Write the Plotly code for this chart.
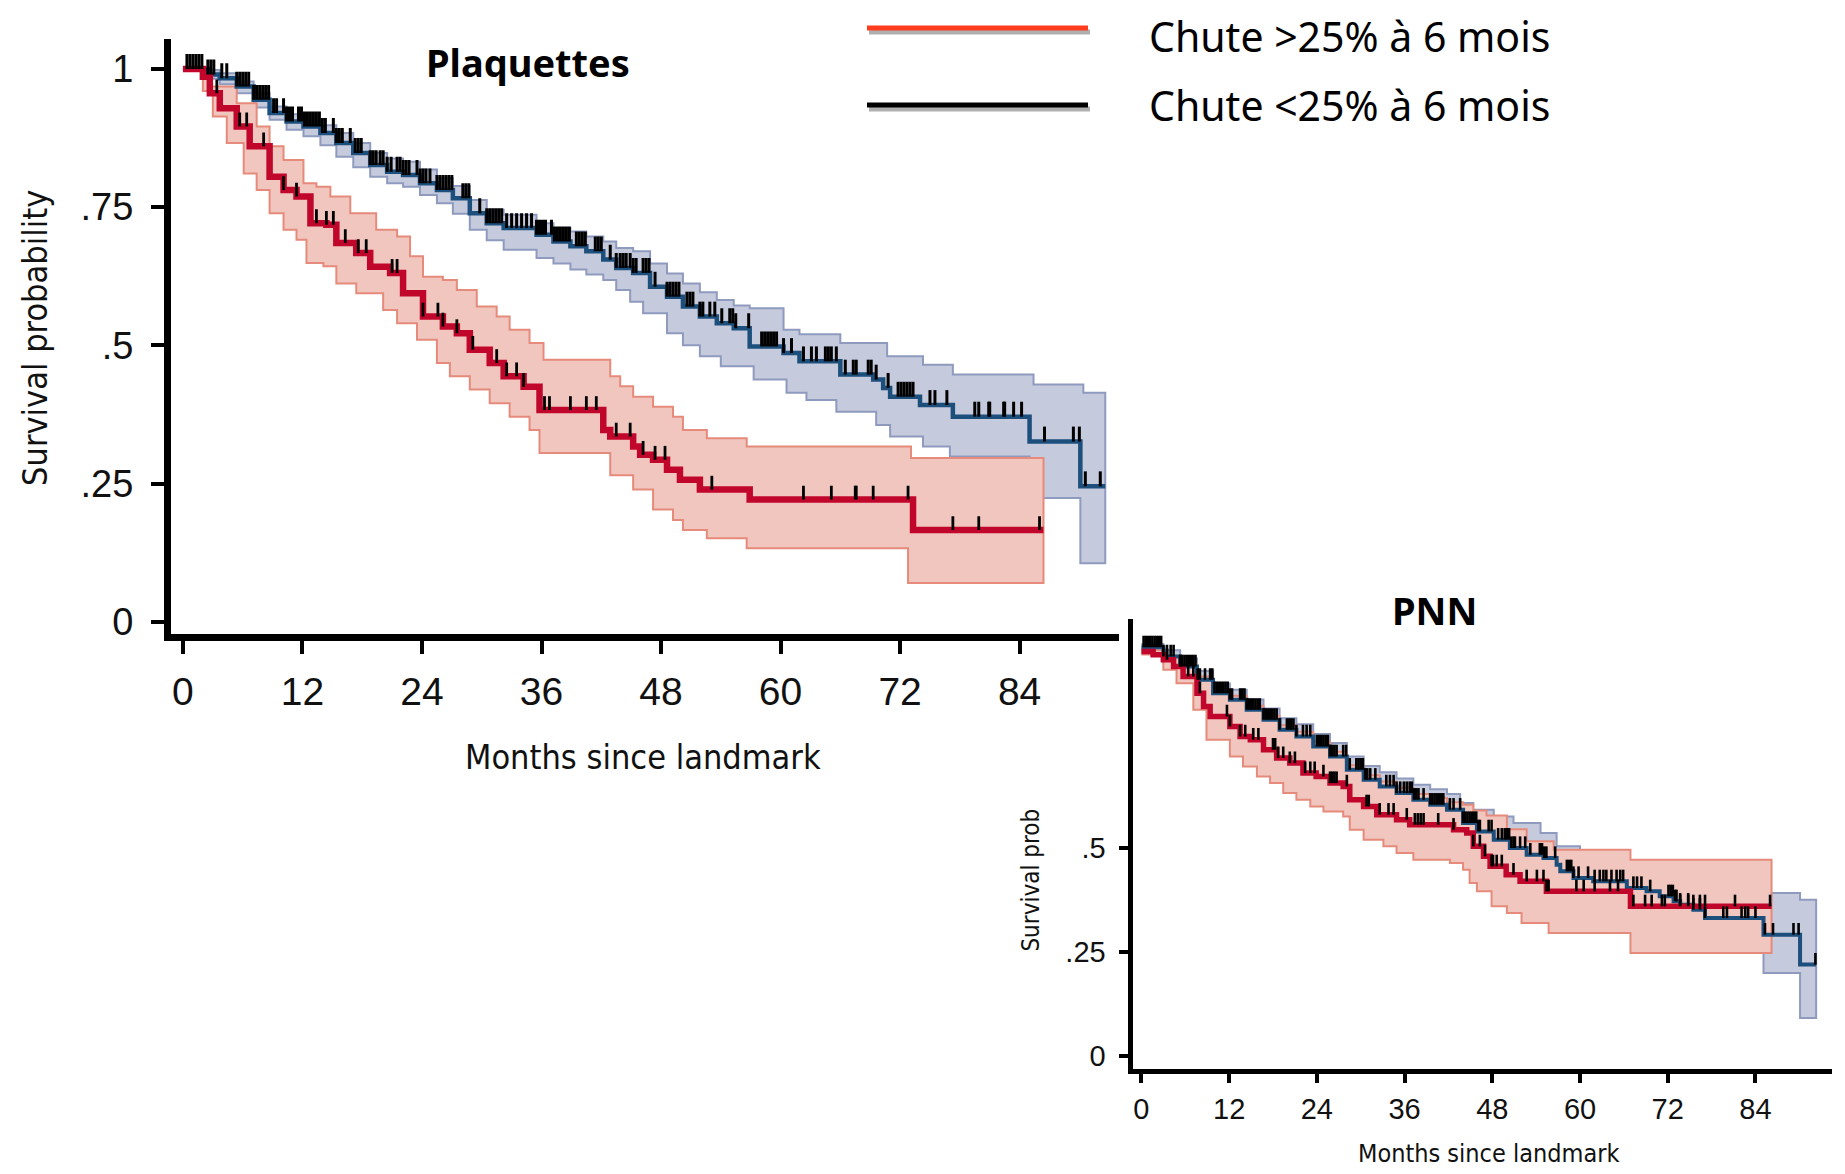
import numpy as np
import plotly.graph_objects as go

PAGE_W, PAGE_H = 1845, 1174
OFF = 8          # default body margin of the html page
SY = 0.9928      # measured vertical scale of the photographed page
W, H = PAGE_W - 2 * OFF, PAGE_H - OFF

# ---------------- Data ----------------
x_ticks = [0, 12, 24, 36, 48, 60, 72, 84]
y_ticks_main = [0, 0.25, 0.5, 0.75, 1]
y_ticklabels_main = ["0", ".25", ".5", ".75", "1"]
y_ticks_pnn = [0, 0.25, 0.5]
y_ticklabels_pnn = ["0", ".25", ".5"]

# --- Plaquettes : Chute >25% (red) ---
plq_red_t = [0, 2.0, 2.7, 3.7, 5.4, 6.7, 8.7, 10.1, 11.4, 12.8, 14.4, 15.4, 17.4, 18.8, 20.8, 22.1, 24.1, 26.1,
             27.5, 28.8, 30.8, 32.2, 34.2, 35.8, 42.2, 42.9, 45.2, 45.9, 47.2, 48.6, 49.9, 51.9, 56.9, 73.3, 86.4]
plq_red_s = [1.0, 0.986, 0.956, 0.929, 0.896, 0.860, 0.805, 0.781, 0.769, 0.721, 0.718, 0.685, 0.667, 0.642, 0.631,
             0.594, 0.552, 0.534, 0.522, 0.492, 0.468, 0.444, 0.425, 0.383, 0.347, 0.335, 0.317, 0.302, 0.293, 0.275,
             0.257, 0.239, 0.221, 0.166, 0.166]
plq_red_up_t = [0, 2.7, 5.4, 7.4, 8.7, 10.1, 12.1, 13.4, 14.8, 16.8, 19.4, 21.5, 22.8, 24.1, 26.1, 27.5, 29.5, 31.5,
                32.8, 34.8, 36.2, 42.9, 43.9, 45.2, 47.2, 49.2, 50.2, 52.6, 56.6, 73.1, 86.4]
plq_red_up_s = [1.0, 0.968, 0.938, 0.896, 0.860, 0.835, 0.793, 0.787, 0.769, 0.739, 0.709, 0.697, 0.661, 0.624, 0.618,
                0.600, 0.570, 0.552, 0.528, 0.504, 0.474, 0.444, 0.426, 0.407, 0.389, 0.371, 0.347, 0.332, 0.317,
                0.296, 0.296]
plq_red_lo_t = [0, 2.0, 3.0, 4.4, 6.1, 7.4, 8.7, 10.1, 11.4, 12.4, 14.1, 15.4, 17.4, 20.1, 21.5, 23.5, 25.5, 26.8,
                28.8, 30.8, 32.8, 34.8, 35.8, 42.9, 45.2, 47.2, 49.2, 50.2, 52.6, 56.6, 72.8, 86.4]
plq_red_lo_s = [1.0, 0.960, 0.914, 0.866, 0.811, 0.781, 0.739, 0.709, 0.691, 0.649, 0.643, 0.612, 0.594, 0.564, 0.540,
                0.510, 0.468, 0.444, 0.420, 0.395, 0.371, 0.347, 0.305, 0.265, 0.239, 0.203, 0.184, 0.166, 0.151,
                0.133, 0.070, 0.070]
plq_red_cens = [3.4, 5.7, 6.4, 8.1, 10.1, 11.4, 13.4, 14.4, 15.1, 16.3, 17.6, 18.4, 21.0, 21.5, 24.1, 25.6, 26.1,
                27.5, 29.1, 31.5, 32.5, 33.5, 34.2, 36.3, 36.8, 38.9, 40.5, 41.5, 43.5, 44.9, 46.2, 47.4, 48.4, 53.1,
                62.3, 65.1, 67.5, 67.6, 69.3, 72.8, 77.3, 79.9, 86.0]

# --- Plaquettes : Chute <25% (blue/black) ---
plq_blue_t = [0, 2.5, 3.7, 5.4, 7.1, 8.7, 10.4, 12.1, 13.8, 15.4, 17.1, 18.8, 20.5, 22.1, 23.8, 25.5, 27.1, 28.8,
              30.5, 32.2, 35.5, 37.2, 38.9, 40.5, 42.2, 43.5, 45.2, 46.9, 48.6, 50.2, 51.9, 53.6, 55.3, 56.9, 60.3,
              61.9, 66.0, 69.3, 70.3, 71.0, 74.0, 77.3, 85.0, 90.1, 92.6]
plq_blue_s = [1.0, 0.990, 0.983, 0.968, 0.944, 0.920, 0.905, 0.896, 0.884, 0.866, 0.848, 0.826, 0.814, 0.808, 0.793,
              0.781, 0.766, 0.739, 0.721, 0.712, 0.700, 0.688, 0.679, 0.670, 0.655, 0.640, 0.631, 0.606, 0.588, 0.570,
              0.552, 0.540, 0.531, 0.498, 0.486, 0.471, 0.447, 0.438, 0.423, 0.407, 0.392, 0.371, 0.326, 0.245, 0.245]
plq_blue_up_t = [0, 2.5, 3.7, 5.4, 7.1, 8.7, 10.4, 12.1, 13.8, 15.4, 17.1, 18.8, 20.5, 22.1, 23.8, 25.5, 27.1, 28.8,
                 30.5, 32.2, 35.5, 37.2, 38.9, 40.5, 42.2, 43.5, 45.2, 46.9, 48.6, 50.2, 51.9, 53.6, 55.3, 56.9, 60.3,
                 61.9, 66.0, 70.7, 74.3, 77.3, 85.4, 90.4, 92.6]
plq_blue_up_s = [1.0, 0.998, 0.992, 0.977, 0.956, 0.932, 0.918, 0.908, 0.898, 0.884, 0.866, 0.848, 0.838, 0.832,
                 0.818, 0.802, 0.788, 0.763, 0.745, 0.736, 0.721, 0.712, 0.706, 0.697, 0.688, 0.676, 0.670, 0.648,
                 0.630, 0.612, 0.596, 0.582, 0.572, 0.567, 0.528, 0.520, 0.504, 0.480, 0.465, 0.447, 0.429, 0.414,
                 0.414]
plq_blue_lo_t = [0, 2.5, 3.7, 5.4, 7.1, 8.7, 10.4, 12.1, 13.8, 15.4, 17.1, 18.8, 20.5, 22.1, 23.8, 25.5, 27.1, 28.8,
                 30.5, 32.2, 35.5, 37.2, 38.9, 40.5, 42.2, 43.5, 44.9, 46.2, 48.6, 50.2, 51.9, 54.0, 57.3, 60.6, 62.6,
                 65.6, 69.6, 71.0, 74.3, 77.0, 85.0, 90.1, 92.6]
plq_blue_lo_s = [1.0, 0.982, 0.972, 0.956, 0.930, 0.908, 0.890, 0.878, 0.862, 0.841, 0.822, 0.805, 0.793, 0.787,
                 0.772, 0.757, 0.738, 0.709, 0.690, 0.673, 0.658, 0.648, 0.637, 0.628, 0.618, 0.600, 0.579, 0.558,
                 0.522, 0.500, 0.480, 0.462, 0.438, 0.414, 0.401, 0.380, 0.356, 0.335, 0.317, 0.299, 0.224, 0.106,
                 0.106]
plq_blue_cens = [0.4, 0.7, 1.0, 1.3, 1.6, 1.9, 2.5, 2.8, 3.1, 3.9, 4.4, 5.4, 5.7, 6.0, 6.3, 6.6, 7.1, 7.4, 7.7, 8.0,
                 8.3, 8.6, 9.1, 9.4, 10.1, 10.4, 10.7, 11.0, 11.6, 11.9, 12.2, 12.5, 12.8, 13.1, 13.4, 13.7, 14.0,
                 14.3, 15.1, 15.4, 15.7, 16.0, 16.8, 17.3, 17.6, 17.9, 18.8, 19.1, 19.4, 19.8, 20.1, 20.5, 20.9,
                 21.5, 21.8, 22.1, 22.4, 22.7, 23.5, 23.8, 24.1, 24.4, 24.8, 25.5, 25.8, 26.1, 26.4, 26.7, 27.0,
                 28.1, 28.4, 28.7, 29.8, 30.5, 30.8, 31.1, 31.4, 31.7, 32.0, 32.5, 33.0, 33.5, 34.0, 34.5, 35.0,
                 35.5, 35.8, 36.1, 36.4, 37.0, 37.3, 37.6, 37.9, 38.2, 38.5, 38.8, 39.5, 39.8, 40.1, 40.4, 41.4,
                 41.7, 42.0, 42.9, 43.5, 43.9, 44.2, 44.5, 44.9, 45.2, 45.5, 46.2, 46.5, 46.8, 47.4, 48.6, 48.9,
                 49.2, 49.5, 49.8, 50.6, 50.9, 51.2, 51.9, 52.2, 52.9, 53.4, 54.1, 54.9, 55.2, 55.5, 56.8, 58.1,
                 58.4, 58.7, 59.0, 59.3, 59.6, 60.3, 61.1, 62.3, 63.1, 63.6, 64.5, 64.8, 65.1, 65.6, 66.5, 67.3,
                 67.6, 68.8, 69.1, 69.6, 70.8, 71.8, 72.1, 72.4, 72.7, 73.0, 73.3, 75.0, 75.5, 76.7, 79.5, 79.9,
                 80.9, 81.0, 82.4, 82.5, 83.4, 84.2, 86.5, 89.4, 90.0, 90.6, 92.1]

# --- PNN : Chute >25% (red) ---
pnn_red_t = [0, 1.6, 3.0, 4.4, 5.7, 7.6, 8.5, 9.4, 12.1, 13.5, 14.9, 16.7, 18.5, 20.3, 22.1, 23.9, 25.8, 27.6,
             28.5, 30.4, 32.2, 34.9, 36.7, 42.7, 44.5, 45.4, 46.8, 47.7, 49.9, 51.8, 55.4, 66.9, 86.2]
pnn_red_s = [0.972, 0.964, 0.952, 0.936, 0.912, 0.872, 0.840, 0.816, 0.792, 0.768, 0.760, 0.736, 0.716, 0.704,
             0.680, 0.672, 0.656, 0.648, 0.616, 0.600, 0.580, 0.568, 0.556, 0.544, 0.536, 0.504, 0.480, 0.456,
             0.436, 0.420, 0.396, 0.360, 0.360]
pnn_red_up_t = [0, 3.0, 5.3, 7.6, 9.8, 12.1, 14.4, 16.7, 18.9, 21.2, 23.5, 25.8, 28.1, 30.4, 32.6, 34.9, 37.2,
                39.5, 41.8, 44.0, 45.4, 47.2, 50.0, 52.7, 56.4, 66.9, 86.2]
pnn_red_up_s = [0.975, 0.962, 0.942, 0.912, 0.882, 0.866, 0.842, 0.818, 0.795, 0.779, 0.755, 0.731, 0.699, 0.675,
                0.660, 0.645, 0.630, 0.620, 0.610, 0.604, 0.590, 0.578, 0.545, 0.516, 0.496, 0.472, 0.472]
pnn_red_lo_t = [0, 3.0, 4.8, 7.1, 8.9, 12.1, 13.9, 15.8, 17.6, 19.4, 21.2, 23.1, 24.9, 27.6, 28.5, 30.4, 33.1,
                34.9, 37.2, 42.2, 44.0, 44.9, 45.9, 47.9, 50.0, 52.0, 55.7, 66.9, 86.2]
pnn_red_lo_s = [0.965, 0.928, 0.896, 0.832, 0.760, 0.720, 0.696, 0.672, 0.656, 0.632, 0.616, 0.600, 0.588, 0.576,
                0.544, 0.520, 0.504, 0.488, 0.472, 0.464, 0.448, 0.416, 0.396, 0.360, 0.344, 0.320, 0.296, 0.248,
                0.248]
pnn_red_cens = [3.5, 5.3, 6.4, 7.1, 8.0, 11.7, 12.1, 13.5, 14.2, 15.3, 16.0, 18.0, 18.3, 18.7, 19.4, 20.3, 21.0,
                22.4, 23.1, 23.7, 24.9, 25.8, 26.1, 26.4, 26.7, 28.1, 30.8, 31.1, 32.6, 33.8, 34.5, 36.3, 37.4,
                37.8, 38.2, 38.6, 40.6, 42.7, 45.4, 46.3, 47.0, 47.9, 48.1, 48.6, 49.3, 50.9, 52.7, 54.1, 55.0,
                55.4, 55.7, 59.5, 60.5, 62.0, 64.1, 65.2, 67.3, 68.9, 69.8, 71.2, 71.6, 73.7, 74.8, 75.5, 76.4,
                77.1, 81.2, 86.0]

# --- PNN : Chute <25% (blue/black) ---
pnn_blue_t = [0, 3.0, 5.3, 7.6, 9.8, 12.1, 14.4, 16.7, 18.9, 21.2, 23.5, 25.8, 28.1, 30.4, 32.6, 34.9, 37.2, 39.5,
              41.8, 44.0, 45.9, 48.2, 50.4, 52.7, 55.0, 56.8, 57.3, 59.1, 61.8, 66.4, 69.1, 70.9, 72.8, 73.7, 75.5,
              77.1, 85.1, 90.1, 92.3]
pnn_blue_s = [0.982, 0.960, 0.936, 0.904, 0.872, 0.856, 0.832, 0.808, 0.784, 0.768, 0.744, 0.720, 0.688, 0.664,
              0.648, 0.632, 0.616, 0.604, 0.592, 0.560, 0.540, 0.520, 0.500, 0.484, 0.476, 0.460, 0.444, 0.428,
              0.420, 0.404, 0.396, 0.384, 0.372, 0.364, 0.352, 0.332, 0.292, 0.220, 0.220]
pnn_blue_up_t = [0, 3.0, 5.3, 7.6, 9.8, 12.1, 14.4, 16.7, 18.9, 21.2, 23.5, 25.8, 28.1, 30.4, 32.6, 34.9, 37.2,
                 39.5, 41.8, 43.6, 45.4, 48.2, 50.9, 54.6, 56.8, 60.0, 66.0, 72.0, 77.1, 85.1, 90.1, 92.3]
pnn_blue_up_s = [0.990, 0.975, 0.955, 0.925, 0.895, 0.880, 0.857, 0.835, 0.812, 0.797, 0.774, 0.752, 0.720, 0.697,
                 0.682, 0.667, 0.652, 0.641, 0.630, 0.608, 0.592, 0.576, 0.560, 0.536, 0.504, 0.490, 0.470, 0.450,
                 0.430, 0.392, 0.376, 0.376]
pnn_blue_lo_t = [0, 3.0, 5.3, 7.6, 9.8, 12.1, 14.4, 16.7, 18.9, 21.2, 23.5, 25.8, 28.1, 30.4, 32.6, 34.9, 37.2,
                 39.5, 41.8, 44.0, 46.3, 48.6, 50.4, 52.7, 55.0, 57.3, 61.8, 66.4, 70.9, 75.5, 77.1, 85.1, 90.1, 92.3]
pnn_blue_lo_s = [0.970, 0.945, 0.918, 0.884, 0.850, 0.832, 0.806, 0.780, 0.755, 0.737, 0.710, 0.684, 0.650, 0.624,
                 0.606, 0.588, 0.570, 0.556, 0.542, 0.516, 0.490, 0.472, 0.458, 0.440, 0.430, 0.395, 0.375, 0.355,
                 0.330, 0.300, 0.275, 0.200, 0.092, 0.092]
pnn_blue_cens = [0.3, 0.6, 0.9, 1.2, 1.5, 1.8, 2.1, 2.4, 2.7, 3.0, 3.5, 4.0, 4.4, 5.3, 5.6, 5.9, 6.2, 6.5, 6.8, 7.1,
                 7.4, 7.7, 8.0, 8.7, 9.4, 9.7, 10.0, 10.3, 10.6, 10.9, 11.2, 11.5, 11.8, 12.1, 12.4, 13.5, 13.8,
                 14.1, 14.4, 14.7, 15.0, 15.3, 15.6, 15.9, 16.2, 16.7, 17.0, 17.3, 17.6, 17.9, 18.2, 18.5, 18.9,
                 19.9, 20.2, 20.5, 20.8, 21.2, 22.1, 22.6, 23.1, 24.0, 24.3, 24.6, 24.9, 25.2, 25.5, 25.8, 26.1,
                 26.4, 26.7, 27.6, 28.0, 28.5, 29.4, 29.7, 30.0, 30.3, 30.6, 30.9, 31.3, 32.0, 33.5, 34.0, 34.5,
                 34.9, 35.4, 35.9, 36.3, 36.7, 37.0, 37.3, 37.6, 37.9, 38.6, 39.5, 39.8, 40.1, 40.4, 40.7, 41.0,
                 41.3, 42.2, 42.7, 43.6, 44.0, 44.3, 44.6, 44.9, 45.2, 45.5, 45.8, 46.1, 46.3, 47.5, 47.9, 48.8,
                 49.3, 49.7, 50.0, 50.3, 50.6, 50.9, 51.1, 51.8, 52.5, 53.2, 54.5, 54.8, 55.1, 55.4, 56.6, 58.2,
                 58.5, 58.8, 59.1, 59.8, 61.1, 62.0, 62.7, 63.2, 63.6, 64.3, 65.0, 65.5, 65.9, 67.3, 67.8, 68.4,
                 69.6, 72.1, 72.4, 72.7, 73.0, 73.2, 73.7, 74.8, 75.5, 76.4, 77.1, 79.6, 80.1, 82.1, 82.6, 83.0,
                 84.0, 85.3, 86.4, 89.2, 89.9, 92.2]

legend_labels = ["Chute >25% à 6 mois", "Chute <25% à 6 mois"]
panel_titles = ["Plaquettes", "PNN"]

# ---------------- Styling ----------------
RED_LINE, BLUE_LINE = "#c1062c", "#1d4f7c"
RED_FILL, BLUE_FILL = "#f1c6be", "#c6cadd"
RED_EDGE, BLUE_EDGE = "#e68b7b", "#8f9abf"
TICK_FONT = "Liberation Sans, Arial, sans-serif"
TITLE_FONT = "DejaVu Sans Condensed, Liberation Sans Narrow, Liberation Sans, sans-serif"
CAL_FONT = "Noto Sans, Open Sans, sans-serif"


def step_path(t, s):
    assert len(t) == len(s)
    xs, ys = [t[0]], [s[0]]
    for i in range(1, len(t)):
        xs += [t[i], t[i]]
        ys += [s[i - 1], s[i]]
    return xs, ys


def surv_at(t, s, x):
    idx = np.searchsorted(np.asarray(t), np.asarray(x), side="right") - 1
    return np.asarray(s)[np.clip(idx, 0, len(s) - 1)]


def band(fig, tu, su, tl, sl, fill, edge, xa, ya):
    xu, yu = step_path(tu, su)
    xl, yl = step_path(tl, sl)
    fig.add_trace(go.Scatter(x=xu + xl[::-1], y=yu + yl[::-1], mode="lines", fill="toself",
                             fillcolor=fill, line=dict(color=edge, width=2), hoverinfo="skip",
                             showlegend=False, xaxis=xa, yaxis=ya))


def curve(fig, t, s, color, width, xa, ya):
    x, y = step_path(t, s)
    fig.add_trace(go.Scatter(x=x, y=y, mode="lines", line=dict(color=color, width=width),
                             showlegend=False, xaxis=xa, yaxis=ya))


def censors(fig, t, s, ct, h, thick, xa, ya):
    y = surv_at(t, s, ct)
    fig.add_trace(go.Scatter(x=ct, y=y, mode="markers",
                             marker=dict(size=1, color="rgba(0,0,0,0)"),
                             error_y=dict(type="data", symmetric=False, array=[h] * len(ct),
                                          arrayminus=[0] * len(ct), width=0, thickness=thick,
                                          color="black"),
                             showlegend=False, xaxis=xa, yaxis=ya))


fig = go.Figure()

# Panel 1 : Plaquettes
band(fig, plq_blue_up_t, plq_blue_up_s, plq_blue_lo_t, plq_blue_lo_s, BLUE_FILL, BLUE_EDGE, "x", "y")
band(fig, plq_red_up_t, plq_red_up_s, plq_red_lo_t, plq_red_lo_s, RED_FILL, RED_EDGE, "x", "y")
curve(fig, plq_blue_t, plq_blue_s, BLUE_LINE, 4.5, "x", "y")
curve(fig, plq_red_t, plq_red_s, RED_LINE, 6.5, "x", "y")
censors(fig, plq_blue_t, plq_blue_s, plq_blue_cens, 0.027, 3, "x", "y")
censors(fig, plq_red_t, plq_red_s, plq_red_cens, 0.025, 2.8, "x", "y")

# Panel 2 : PNN
band(fig, pnn_blue_up_t, pnn_blue_up_s, pnn_blue_lo_t, pnn_blue_lo_s, BLUE_FILL, BLUE_EDGE, "x2", "y2")
band(fig, pnn_red_up_t, pnn_red_up_s, pnn_red_lo_t, pnn_red_lo_s, RED_FILL, RED_EDGE, "x2", "y2")
curve(fig, pnn_blue_t, pnn_blue_s, BLUE_LINE, 4, "x2", "y2")
curve(fig, pnn_red_t, pnn_red_s, RED_LINE, 5.5, "x2", "y2")
censors(fig, pnn_blue_t, pnn_blue_s, pnn_blue_cens, 0.028, 2.6, "x2", "y2")
censors(fig, pnn_red_t, pnn_red_s, pnn_red_cens, 0.028, 2.6, "x2", "y2")


def px_x(p):
    return (p - OFF) / W


def px_y(p):
    return 1 - (p / SY - OFF) / H


axis_common = dict(showgrid=False, zeroline=False, showline=True, linecolor="black", ticks="outside",
                   tickcolor="black", fixedrange=True)

fig.update_layout(
    width=W, height=H, margin=dict(l=0, r=0, t=0, b=0),
    paper_bgcolor="white", plot_bgcolor="white", showlegend=False,
    xaxis=dict(domain=[px_x(171), px_x(1119)], range=[-1.2, 93.98], tickvals=x_ticks,
               linewidth=7, ticklen=13, tickwidth=4, ticklabelstandoff=4,
               tickfont=dict(family=TICK_FONT, size=39, color="#111"), anchor="y", **axis_common),
    yaxis=dict(domain=[px_y(634.5), px_y(39)], range=[-0.0226, 1.054], tickvals=y_ticks_main,
               ticktext=y_ticklabels_main, linewidth=7, ticklen=13, tickwidth=4, ticklabelstandoff=10,
               tickfont=dict(family=TICK_FONT, size=38, color="#111"), anchor="x", **axis_common),
    xaxis2=dict(domain=[px_x(1132.5), px_x(1832)], range=[-1.22, 94.47], tickvals=x_ticks,
                linewidth=5, ticklen=9, tickwidth=3.5, ticklabelstandoff=1,
                tickfont=dict(family=TICK_FONT, size=29, color="#111"), anchor="y2", **axis_common),
    yaxis2=dict(domain=[px_y(1069.5), px_y(619)], range=[-0.0307, 1.0507], tickvals=y_ticks_pnn,
                ticktext=y_ticklabels_pnn, linewidth=5, ticklen=9, tickwidth=3.5, ticklabelstandoff=7,
                tickfont=dict(family=TICK_FONT, size=29, color="#111"), anchor="x2", **axis_common),
)

ann = []
# axis titles
ann.append(dict(text="Months since landmark", x=px_x(643), y=px_y(757), xref="paper", yref="paper",
                showarrow=False, xanchor="center", yanchor="middle",
                font=dict(family=TITLE_FONT, size=34, color="#111")))
ann.append(dict(text="Survival probability", x=px_x(35), y=px_y(338), xref="paper", yref="paper",
                showarrow=False, xanchor="center", yanchor="middle", textangle=-90,
                font=dict(family=TITLE_FONT, size=34, color="#111")))
ann.append(dict(text="Months since landmark", x=px_x(1488), y=px_y(1154), xref="paper", yref="paper",
                showarrow=False, xanchor="center", yanchor="middle",
                font=dict(family=TITLE_FONT, size=25, color="#111")))
ann.append(dict(text="Survival prob", x=px_x(1031), y=px_y(880), xref="paper", yref="paper",
                showarrow=False, xanchor="center", yanchor="middle", textangle=-90,
                font=dict(family=TITLE_FONT, size=24, color="#111")))
# panel titles
ann.append(dict(text="<b>%s</b>" % panel_titles[0], x=px_x(527.5), y=px_y(62), xref="paper", yref="paper",
                showarrow=False, xanchor="center", yanchor="middle",
                font=dict(family=CAL_FONT, size=38, color="black")))
ann.append(dict(text="<b>%s</b>" % panel_titles[1], x=px_x(1434.5), y=px_y(610), xref="paper", yref="paper",
                showarrow=False, xanchor="center", yanchor="middle",
                font=dict(family=CAL_FONT, size=38, color="black")))
# legend texts
for lbl, yy in zip(legend_labels, [36, 105]):
    ann.append(dict(text=lbl, x=px_x(1147), y=px_y(yy), xref="paper", yref="paper", showarrow=False,
                    xanchor="left", yanchor="middle", font=dict(family=CAL_FONT, size=41, color="black")))
fig.update_layout(annotations=ann)

# legend line samples (with drop shadow)
shapes = []
for yy, col in [(28, "#ff3c1e"), (105, "#000000")]:
    shapes.append(dict(type="line", xref="paper", yref="paper", x0=px_x(869), x1=px_x(1090),
                       y0=px_y(yy + 4), y1=px_y(yy + 4), line=dict(color="rgba(110,110,110,0.55)", width=5)))
    shapes.append(dict(type="line", xref="paper", yref="paper", x0=px_x(867), x1=px_x(1088),
                       y0=px_y(yy), y1=px_y(yy), line=dict(color=col, width=5)))
fig.update_layout(shapes=shapes)

fig.write_html("out.html")
